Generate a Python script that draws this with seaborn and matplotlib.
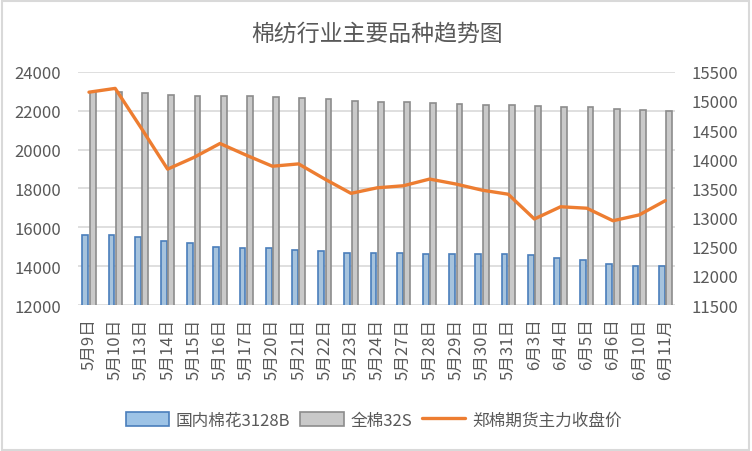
import numpy as np
import pandas as pd
import matplotlib
matplotlib.use('Agg')
import matplotlib.pyplot as plt
import seaborn as sb
from matplotlib.patches import Patch, Rectangle
from matplotlib.lines import Line2D

# data
dates = ['5月9日', '5月10日', '5月13日', '5月14日', '5月15日', '5月16日', '5月17日',
         '5月20日', '5月21日', '5月22日', '5月23日', '5月24日', '5月27日', '5月28日',
         '5月29日', '5月30日', '5月31日', '6月3日', '6月4日', '6月5日', '6月6日',
         '6月10日', '6月11月']
cotton_3128b = [15600, 15600, 15520, 15300, 15210, 14990, 14940, 14940, 14830, 14780,
                14700, 14650, 14650, 14600, 14600, 14600, 14600, 14550, 14440, 14340,
                14130, 14030, 14030]
yarn_32s = [22950, 22950, 22900, 22820, 22770, 22770, 22770, 22720, 22670, 22580,
            22510, 22470, 22420, 22390, 22320, 22270, 22270, 22220, 22170, 22170,
            22100, 22010, 21960]
zhengmian = [15150, 15215, 14530, 13830, 14030, 14270, 14070, 13880, 13920, 13660,
             13415, 13510, 13545, 13660, 13575, 13470, 13400, 12975, 13185, 13160,
             12945, 13045, 13290]
series_names = ['国内棉花3128B', '全棉32S', '郑棉期货主力收盘价']

sb.set_style('white')
plt.rcParams['font.family'] = ['Noto Sans CJK SC', 'DejaVu Sans']
txt = '#595959'

df = pd.DataFrame({
    'date': dates * 2,
    'series': [series_names[0]] * len(dates) + [series_names[1]] * len(dates),
    'value': cotton_3128b + yarn_32s,
})

fig = plt.figure(figsize=(7.52, 4.52), dpi=100)
ax = fig.add_axes([0.1037, 0.323, 0.794, 0.516])

sb.barplot(data=df, x='date', y='value', hue='series', errorbar=None,
           palette=['#9DC3E6', '#C9C9C9'], width=0.56, gap=0.2, ax=ax,
           linewidth=1.2)
edges = ['#4A7EBB', '#8C8C8C']
for cont, ec in zip(ax.containers, edges):
    for bar in cont:
        bar.set_edgecolor(ec)
ax.get_legend().remove()

ax.set_ylim(12000, 24000)
ax.set_yticks(range(12000, 24001, 2000))
ax.set_xlim(-0.42, 22.37)
ax.yaxis.grid(True, color='#D9D9D9', linewidth=1.2)
ax.set_axisbelow(True)
for s in ax.spines.values():
    s.set_visible(False)
ax.set_xlabel('')
ax.set_ylabel('')
ax.tick_params(axis='y', length=0, labelsize=12, labelcolor=txt, pad=12)
ax.tick_params(axis='x', length=0, labelsize=12, labelcolor=txt, pad=9)
ax.set_xticks(range(len(dates)))
ax.set_xticklabels(dates, rotation=90)

ax2 = ax.twinx()
sb.lineplot(x=np.arange(len(dates)), y=zhengmian, ax=ax2, color='#ED7D31',
            linewidth=2.4)
ax2.set_ylim(11500, 15500)
ax2.set_yticks(range(11500, 15501, 500))
ax2.tick_params(axis='y', length=0, labelsize=12, labelcolor=txt, pad=12)
ax2.grid(False)
for s in ax2.spines.values():
    s.set_visible(False)
ax2.set_xlim(-0.42, 22.37)

fig.text(0.502, 0.925, '棉纺行业主要品种趋势图', ha='center', va='center',
         fontsize=16.5, color=txt)

handles = [Patch(facecolor='#9DC3E6', edgecolor='#4A7EBB', linewidth=1.2),
           Patch(facecolor='#C9C9C9', edgecolor='#8C8C8C', linewidth=1.2),
           Line2D([0], [0], color='#ED7D31', linewidth=2.4)]
fig.legend(handles, series_names, loc='center', bbox_to_anchor=(0.497, 0.068),
           ncol=3, frameon=False, fontsize=12, labelcolor=txt,
           handlelength=2.6, handleheight=0.9, handletextpad=0.4, columnspacing=0.6)

fig.patches.append(Rectangle((0.002, 0.003), 0.994, 0.993, transform=fig.transFigure,
                             fill=False, edgecolor='#D9D9D9', linewidth=1.5))

fig.savefig('out.png', dpi=100, facecolor='white')
